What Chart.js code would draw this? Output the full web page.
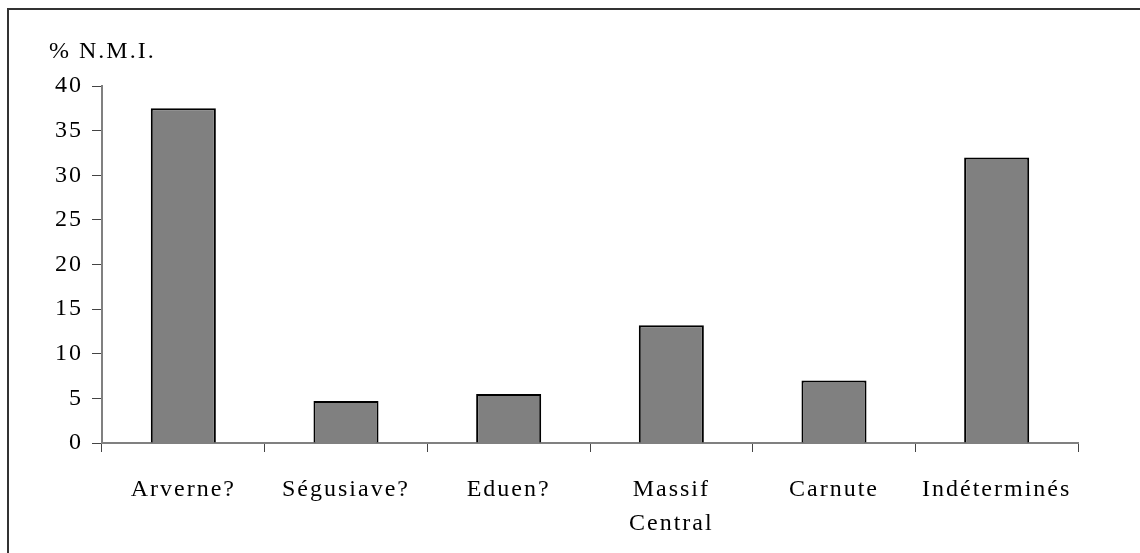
<!DOCTYPE html>
<html>
<head>
<meta charset="utf-8">
<script src="https://cdn.jsdelivr.net/npm/chart.js@4/dist/chart.umd.min.js"></script>
<style>
  html, body { margin: 0; padding: 0; background: #fff; }
  #wrap { width: 1140px; height: 553px; position: relative; }
</style>
</head>
<body>
<div id="wrap"><canvas id="myChart"></canvas></div>
<script>
const categories = ['Arverne?', 'Ségusiave?', 'Eduen?', ['Massif', 'Central'], 'Carnute', 'Indéterminés'];
const nmiPercent = [37.5, 4.7, 5.5, 13.2, 7.0, 32.0];
const yTicks = [0, 5, 10, 15, 20, 25, 30, 35, 40];
const yLabel = '% N.M.I.';

const fontFamily = '"Liberation Serif", "Times New Roman", serif';
const fontSize = 24;
const spacing = '2px';

// frame + letter spacing + unit label
const decor = {
  id: 'decor',
  beforeUpdate(chart) { chart.ctx.letterSpacing = spacing; },
  beforeLayout(chart) { chart.ctx.letterSpacing = spacing; },
  beforeDraw(chart) {
    const ctx = chart.ctx;
    ctx.letterSpacing = spacing;
    ctx.save();
    ctx.fillStyle = '#fff';
    ctx.fillRect(0, 0, chart.width, chart.height);
    ctx.strokeStyle = '#333';
    ctx.lineWidth = 2;
    ctx.beginPath();
    ctx.moveTo(8, chart.height);
    ctx.lineTo(8, 9);
    ctx.lineTo(chart.width, 9);
    ctx.stroke();
    ctx.restore();
  },
  afterDraw(chart) {
    const ctx = chart.ctx;
    ctx.save();
    ctx.letterSpacing = spacing;
    ctx.font = fontSize + 'px ' + fontFamily;
    ctx.fillStyle = '#000';
    ctx.textAlign = 'left';
    ctx.textBaseline = 'alphabetic';
    ctx.fillText(yLabel, 49, 58);
    ctx.restore();
  }
};

const ctx = document.getElementById('myChart').getContext('2d');
new Chart(ctx, {
  type: 'bar',
  data: {
    labels: categories,
    datasets: [{
      data: nmiPercent,
      backgroundColor: '#808080',
      borderColor: '#000',
      borderWidth: 2,
      categoryPercentage: 1,
      barPercentage: 0.4
    }]
  },
  options: {
    responsive: true,
    maintainAspectRatio: false,
    animation: false,
    events: [],
    layout: { padding: { top: 86, right: 62, left: 0, bottom: 0 } },
    plugins: { legend: { display: false }, tooltip: { enabled: false } },
    scales: {
      x: {
        afterFit(scale) { scale.height = 110; },
        border: { color: '#808080', width: 2 },
        grid: { drawOnChartArea: false, drawTicks: true, tickLength: 9, tickColor: '#444', offset: true },
        ticks: {
          color: '#000',
          font: { family: fontFamily, size: fontSize, lineHeight: 1.4 },
          padding: 21,
          maxRotation: 0,
          autoSkip: false
        }
      },
      y: {
        min: 0,
        max: 40,
        afterFit(scale) { scale.width = 102; },
        afterBuildTicks(scale) { scale.ticks = yTicks.map(v => ({ value: v })); },
        border: { color: '#808080', width: 2 },
        grid: { drawOnChartArea: false, drawTicks: true, tickLength: 10, tickColor: '#444' },
        ticks: {
          color: '#000',
          font: { family: fontFamily, size: fontSize },
          padding: 9
        }
      }
    }
  },
  plugins: [decor]
});
</script>
</body>
</html>
